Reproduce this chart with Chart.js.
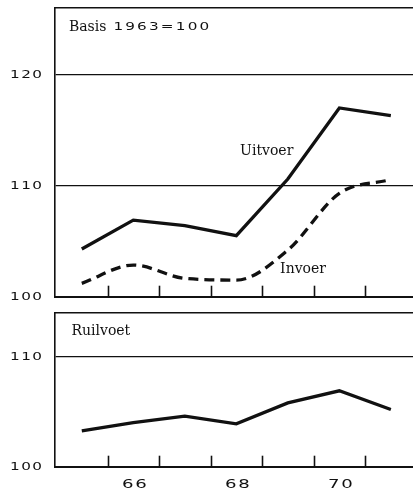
<!DOCTYPE html>
<html>
<head>
<meta charset="utf-8">
<script src="https://cdn.jsdelivr.net/npm/chart.js@4"></script>
<style>
  html, body { margin:0; padding:0; background:#fff; width:413px; height:488px; overflow:hidden; }
  .box { position:absolute; left:0; width:413px; }
  #top { top:0; height:310px; }
  #bot { top:300px; height:200px; }
</style>
</head>
<body>
<div class="box" id="top"><canvas id="c1"></canvas></div>
<div class="box" id="bot"><canvas id="c2"></canvas></div>
<script>
// ---- data ----
const years    = [65, 66, 67, 68, 69, 70, 71];
const uitvoer  = [104.3, 106.9, 106.4, 105.5, 110.6, 117.0, 116.3];
const invoer   = [101.2, 102.85, 101.65, 101.5, 104.2, 109.3, 110.55];
const ruilvoet = [103.25, 104.0, 104.6, 103.9, 105.8, 106.9, 105.2];
const yTicksTop = [100, 110, 120];
const yTicksBot = [100, 110];
const xTickMarks = [65.5, 66.5, 67.5, 68.5, 69.5, 70.5];
const xLabels = [66, 68, 70];

const INK = '#111';
const XMIN = 64.48, XMAX = 71.43;
const NUM_STRETCH = 1.45;
const NUM_LS = 1;

const pts = arr => years.map((y, i) => ({ x: y, y: arr[i] }));

// draws wide "geometric" numerals: horizontally stretched real text
function wideText(ctx, s, x, y, align, ls, size) {
  ctx.save();
  ctx.font = (size || 10.5) + 'px "DejaVu Sans"';
  ctx.letterSpacing = ls + 'px';
  const w = (ctx.measureText(s).width - ls) * NUM_STRETCH;
  let x0 = x;
  if (align === 'right') x0 = x - w;
  else if (align === 'center') x0 = x - w / 2;
  ctx.translate(x0, y);
  ctx.scale(NUM_STRETCH, 1);
  ctx.textAlign = 'left';
  ctx.textBaseline = 'middle';
  ctx.fillStyle = INK;
  ctx.fillText(s, 0, 0);
  ctx.restore();
  return w;
}

const extras = {
  id: 'extras',
  afterDraw(chart, args, opts) {
    const ctx = chart.ctx;
    ctx.save();
    const xs = chart.scales.x, ys = chart.scales.y;
    const area = chart.chartArea;
    // upward tick marks on the time axis
    ctx.strokeStyle = INK; ctx.lineWidth = 1.6;
    xTickMarks.forEach(v => {
      const px = Math.round(xs.getPixelForValue(v)) + 0.5;
      ctx.beginPath(); ctx.moveTo(px, area.bottom); ctx.lineTo(px, area.bottom - 11); ctx.stroke();
    });
    // y tick labels from the scale's ticks
    ys.ticks.forEach(t => {
      wideText(ctx, String(t.value), area.left - 13, ys.getPixelForValue(t.value) + 0.5, 'right', NUM_LS);
    });
    // x tick labels
    if (opts.showX) {
      xs.ticks.forEach(t => {
        wideText(ctx, String(t.value), xs.getPixelForValue(t.value) + 1, area.bottom + 18.5, 'center', 1.2, 12.5);
      });
    }
    // text annotations
    ctx.fillStyle = INK; ctx.textBaseline = 'middle';
    (opts.texts || []).forEach(t => {
      let px = xs.getPixelForValue(t.x);
      const py = ys.getPixelForValue(t.y);
      t.parts.forEach(p => {
        if (p.wide) {
          px += wideText(ctx, p.s, px, py, 'left', p.ls || NUM_LS);
        } else {
          ctx.font = p.font;
          ctx.letterSpacing = '0px';
          ctx.textAlign = t.align || 'left';
          ctx.fillText(p.s, px, py);
          px += ctx.measureText(p.s).width + (p.after || 0);
        }
      });
    });
    ctx.restore();
  }
};

function baseOptions(ymax, yTicks, showX, topH, bottomH, texts) {
  return {
    responsive: true, maintainAspectRatio: false, animation: false,
    layout: { padding: 0 },
    plugins: { legend: { display: false }, tooltip: { enabled: false }, extras: { texts, showX } },
    elements: { point: { radius: 0 } },
    scales: {
      x: {
        type: 'linear', min: XMIN, max: XMAX, position: 'bottom',
        grid: { display: false, drawTicks: false },
        border: { display: true, color: INK, width: 2 },
        afterBuildTicks: s => { s.ticks = xLabels.map(v => ({ value: v })); },
        ticks: { display: false },
        afterFit: s => { s.height = bottomH; }
      },
      xTop: {
        type: 'linear', min: XMIN, max: XMAX, position: 'top',
        grid: { display: false, drawTicks: false },
        border: { display: true, color: INK, width: 1.4 },
        ticks: { display: false },
        afterFit: s => { s.height = topH; }
      },
      y: {
        min: 100, max: ymax, position: 'left',
        afterBuildTicks: s => { s.ticks = yTicks.map(v => ({ value: v })); },
        grid: { color: INK, lineWidth: 1.3, drawTicks: false },
        border: { display: true, color: INK, width: 1.6 },
        ticks: { display: false },
        afterFit: s => { s.width = 55; s.paddingTop = 0; s.paddingBottom = 0; }
      }
    }
  };
}

new Chart(document.getElementById('c1'), {
  type: 'line',
  data: {
    datasets: [
      { label: 'Uitvoer', data: pts(uitvoer), borderColor: INK, borderWidth: 3.3, tension: 0, fill: false },
      { label: 'Invoer', data: pts(invoer), borderColor: INK, borderWidth: 3.3, borderDash: [10, 6],
        cubicInterpolationMode: 'monotone', fill: false }
    ]
  },
  options: baseOptions(126, yTicksTop, false, 8, 13.3, [
    { x: 64.75, y: 124.3, parts: [
      { s: 'Basis', font: '14px "DejaVu Serif"', after: 7 },
      { s: '1963=100', wide: true, ls: 1.5 } ] },
    { x: 68.59, y: 113.1, align: 'center', parts: [{ s: 'Uitvoer', font: '14px "DejaVu Serif"' }] },
    { x: 68.85, y: 102.5, align: 'left', parts: [{ s: 'Invoer', font: '14px "DejaVu Serif"' }] }
  ]),
  plugins: [extras]
});

new Chart(document.getElementById('c2'), {
  type: 'line',
  data: {
    datasets: [
      { label: 'Ruilvoet', data: pts(ruilvoet), borderColor: INK, borderWidth: 3.3, tension: 0, fill: false }
    ]
  },
  options: baseOptions(114, yTicksBot, true, 12.7, 33.3, [
    { x: 64.8, y: 112.3, parts: [{ s: 'Ruilvoet', font: '14px "DejaVu Serif"' }] }
  ]),
  plugins: [extras]
});
</script>
</body>
</html>
